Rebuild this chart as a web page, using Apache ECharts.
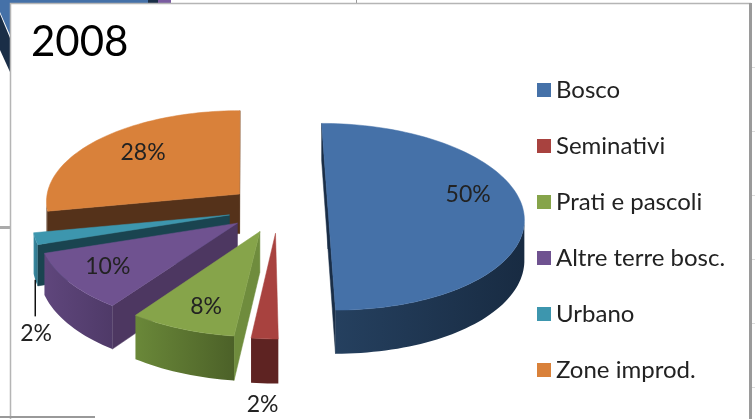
<!DOCTYPE html>
<html>
<head>
<meta charset="utf-8">
<style>
  html, body { margin: 0; background: #fff; }
  #chart { width: 755px; height: 419px; }
</style>
<script src="https://cdn.jsdelivr.net/npm/echarts@6/dist/echarts.min.js"></script>
</head>
<body>
<div id="chart"></div>
<script>
const categories = ['Bosco', 'Seminativi', 'Prati e pascoli', 'Altre terre bosc.', 'Urbano', 'Zone improd.'];
const shares = [50, 2, 8, 10, 2, 28];
const chartTitle = '2008';

// colours, same order as categories
const topColors = ['#4571A8', '#A8423F', '#86A44A', '#6F5290', '#3D96AE', '#D9813A'];
const wallColors = ['#1A2E47', '#5E2322', '#6F8C3D', '#4D3761', '#1A4450', '#55321A'];
const rimLeft = ['#25405F', '#5E2322', '#6A8839', '#5F467C', '#3A8BA2', '#55321A'];
const rimRight = ['#182B42', '#5E2322', '#4C6128', '#4F3A68', '#2F7388', '#55321A'];

// painted back to front
const drawOrder = [5, 4, 3, 2, 1, 0];

// 3d pie: camera and solid
const vanishX = 245;
const horizonY = -908;
const cameraDrop = 1117;
const cameraDist = 2350;
const pieCenterX = 33;
const radius = 195;
const thickness = 40;
const explode = 50;

// label placement, as a fraction of the radius and a turn from the slice middle
const labelRadius = [0.75, 1.175, 0.77, 0.77, 1.19, 0.71];
const labelTurn = [-12, 0, -2, 1, -25, 3];
const labelOnBase = [false, true, false, false, true, false];
const labelFont = '23px Lato';

function project(x, z, h) {
  const s = cameraDist / (cameraDist - z);
  return [vanishX + x * s, horizonY + (cameraDrop + h) * s];
}

function renderSlice(params, api) {
  const i = params.seriesIndex === undefined ? 0 : drawOrder[params.seriesIndex];
  const value = api.value(0);
  const total = shares.reduce((a, b) => a + b, 0);
  const before = shares.slice(0, i).reduce((a, b) => a + b, 0);
  const a0 = before / total * Math.PI * 2;
  const a1 = (before + value) / total * Math.PI * 2;
  const mid = (a0 + a1) / 2;

  // the slice centre moves out along its middle
  const cx = pieCenterX + explode * Math.sin(mid);
  const cz = -explode * Math.cos(mid);
  const at = (a, r, h) => project(cx + r * Math.sin(a), cz - r * Math.cos(a), h);
  const area = pts => pts.reduce((sum, p, k) => {
    const q = pts[(k + 1) % pts.length];
    return sum + p[0] * q[1] - q[0] * p[1];
  }, 0);

  const steps = Math.max(4, Math.ceil((a1 - a0) / 0.03));
  const arc = h => {
    const pts = [];
    for (let k = 0; k <= steps; k++) pts.push(at(a0 + (a1 - a0) * k / steps, radius, h));
    return pts;
  };
  const topArc = arc(0);
  const baseArc = arc(thickness);
  const children = [];

  // cut walls, only those turned to the viewer
  const startWall = [at(a0, 0, 0), at(a0, radius, 0), at(a0, radius, thickness), at(a0, 0, thickness)];
  const endWall = [at(a1, 0, 0), at(a1, radius, 0), at(a1, radius, thickness), at(a1, 0, thickness)];
  [[startWall, area(startWall) < 0], [endWall, area(endWall) > 0]].forEach(w => {
    if (w[1]) {
      children.push({
        type: 'polygon',
        shape: { points: w[0] },
        style: { fill: wallColors[i], stroke: wallColors[i], lineWidth: 0.5 }
      });
    }
  });

  // outer rim, the part where the arc runs right to left on screen
  const front = [];
  const frontBase = [];
  for (let k = 0; k < steps; k++) {
    if (topArc[k + 1][0] < topArc[k][0]) {
      if (!front.length) {
        front.push(topArc[k]);
        frontBase.push(baseArc[k]);
      }
      front.push(topArc[k + 1]);
      frontBase.push(baseArc[k + 1]);
    }
  }
  if (front.length) {
    children.push({
      type: 'polygon',
      shape: { points: front.concat(frontBase.reverse()) },
      style: {
        fill: new echarts.graphic.LinearGradient(0, 0, 1, 0, [
          { offset: 0, color: rimLeft[i] },
          { offset: 1, color: rimRight[i] }
        ])
      }
    });
  }

  // top face
  children.push({
    type: 'polygon',
    shape: { points: [at(a0, 0, 0)].concat(topArc) },
    style: { fill: topColors[i], stroke: topColors[i], lineWidth: 0.5 }
  });

  // value label
  const la = mid + labelTurn[i] * Math.PI / 180;
  const lp = at(la, labelRadius[i] * radius, labelOnBase[i] ? thickness : 0);
  if (labelTurn[i] < -20) {
    // leader line for the label pushed away from its slice
    const from = at(mid, radius, thickness);
    children.push({
      type: 'line',
      shape: { x1: from[0], y1: from[1], x2: from[0], y2: lp[1] - 17 },
      style: { stroke: '#111', lineWidth: 1.5 }
    });
  }
  children.push({
    type: 'text',
    style: {
      x: lp[0], y: lp[1], text: value + '%', font: labelFont,
      fill: '#222', align: 'center', verticalAlign: 'middle'
    }
  });
  return { type: 'group', children: children };
}

// the slide behind the chart shows round the panel
const backdrop = [
  { type: 'polygon', shape: { points: [[0, 0], [148, 0], [148, 3], [10, 3], [10, 35], [0, 12]] }, style: { fill: '#4571A8' } },
  { type: 'polygon', shape: { points: [[0, 14], [10, 38], [10, 72], [0, 50]] }, style: { fill: '#1A2E47' } },
  { type: 'rect', shape: { x: 148, y: 0, width: 10, height: 3 }, style: { fill: '#1A2E47' } },
  { type: 'rect', shape: { x: 158, y: 0, width: 13, height: 3 }, style: { fill: '#7A5CA0' } },
  { type: 'text', style: { x: 180, y: -7, text: 'Altre terre bosc.', font: '21px Lato', fill: '#222', verticalAlign: 'middle' } },
  { type: 'rect', shape: { x: 356, y: 0, width: 1, height: 3 }, style: { fill: '#999' } },
  { type: 'rect', shape: { x: 0, y: 226, width: 10, height: 3 }, style: { fill: '#aaa' } },
  { type: 'rect', shape: { x: 10.5, y: 3.5, width: 740, height: 430 }, style: { fill: '#fff', stroke: '#b5b5b5', lineWidth: 1.5 } },
  { type: 'rect', shape: { x: 749, y: 3, width: 3, height: 416 }, style: { fill: '#9a9a9a' } },
  { type: 'rect', shape: { x: 0, y: 416, width: 95, height: 2 }, style: { fill: '#999' } }
].concat([67, 131, 195, 259, 323, 387].map(y => ({
  type: 'rect', shape: { x: 752, y: y, width: 3, height: 1 }, style: { fill: '#ddd' }
})));

const chart = echarts.init(document.getElementById('chart'));
chart.setOption({
  animation: false,
  title: {
    text: chartTitle,
    left: 26,
    top: 16,
    textStyle: { fontFamily: 'Lato', fontSize: 42, fontWeight: 'normal', color: '#000' }
  },
  legend: {
    orient: 'vertical',
    left: 532,
    top: 73,
    icon: 'rect',
    itemWidth: 14,
    itemHeight: 14,
    itemGap: 32,
    data: categories,
    selectedMode: false,
    textStyle: { fontFamily: 'Lato', fontSize: 24, color: '#222' }
  },
  graphic: backdrop.map(el => Object.assign({ silent: true, z: -10 }, el)),
  series: drawOrder.map(i => ({
    type: 'custom',
    name: categories[i],
    coordinateSystem: 'none',
    silent: true,
    itemStyle: { color: topColors[i] },
    renderItem: renderSlice,
    data: [[shares[i]]]
  }))
});
window.addEventListener('resize', () => chart.resize());
</script>
</body>
</html>
